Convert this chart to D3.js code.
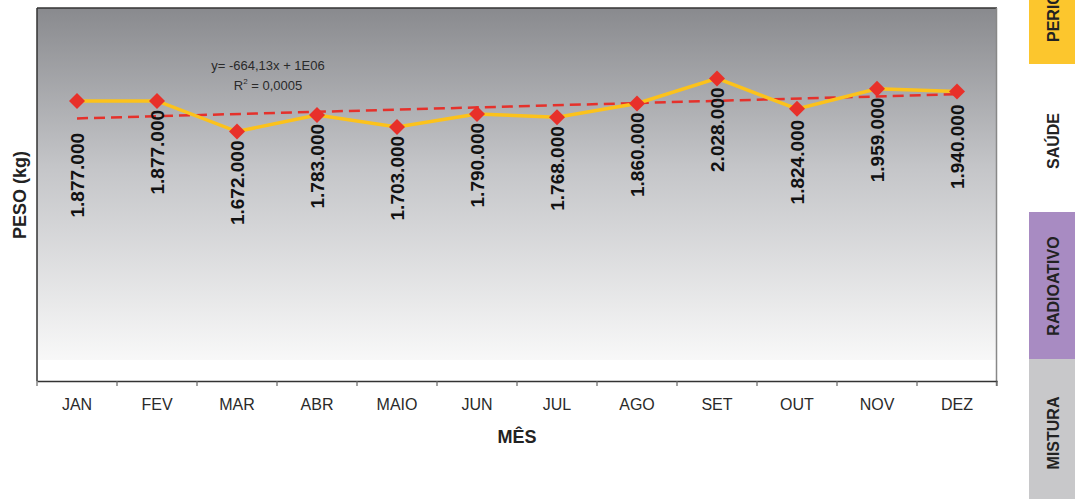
<!DOCTYPE html>
<html><head><meta charset="utf-8">
<script src="https://cdn.jsdelivr.net/npm/d3@7"></script>
<style>html,body{margin:0;padding:0;background:#fff;}svg{display:block;font-family:"Liberation Sans",Arial,sans-serif;}</style>
</head><body>
<svg id="c" width="1075" height="499"></svg>
<script>
const months = ["JAN","FEV","MAR","ABR","MAIO","JUN","JUL","AGO","SET","OUT","NOV","DEZ"];
const weights = [1877000,1877000,1672000,1783000,1703000,1790000,1768000,1860000,2028000,1824000,1959000,1940000];
const trendEnds = [1760000, 1922000];
const equationText = ["y= -664,13x + 1E06", "R", "2", " = 0,0005"];
const tabNames = ["PERIG", "SAÚDE", "RADIOATIVO", "MISTURA"];
const tabColors = ["#fcc62d", "#ffffff", "#a88bc2", "#c8c8ca"];

const svg = d3.select("#c");
const L = 37, R = 997, T = 8, B = 381;
const x = d3.scaleBand().domain(months).range([L, R]);
const y = d3.scaleLinear().domain([0, 2500000]).range([B, T]);
const cx = m => x(m) + x.bandwidth()/2;

// background gradient
const defs = svg.append("defs");
const g = defs.append("linearGradient").attr("id","bg").attr("x1",0).attr("y1",0).attr("x2",0).attr("y2",1);
g.append("stop").attr("offset","0%").attr("stop-color","#898a8e");
g.append("stop").attr("offset","45%").attr("stop-color","#c4c5c8");
g.append("stop").attr("offset","100%").attr("stop-color","#f8f8f8");
svg.append("rect").attr("x",L).attr("y",T).attr("width",R-L).attr("height",360-T).attr("fill","url(#bg)");

// frame
svg.append("line").attr("x1",L).attr("x2",R).attr("y1",T).attr("y2",T).attr("stroke","#333").attr("stroke-width",1.5);
svg.append("line").attr("x1",R-0.5).attr("x2",R-0.5).attr("y1",T).attr("y2",B+5).attr("stroke","#888").attr("stroke-width",1.5);
svg.append("line").attr("x1",L).attr("x2",L).attr("y1",T).attr("y2",B).attr("stroke","#333").attr("stroke-width",1.5);

// x axis
const xAxis = d3.axisBottom(x).tickSize(0).tickPadding(18);
const ax = svg.append("g").attr("transform",`translate(0,${B})`).call(xAxis);
ax.select(".domain").attr("stroke","#333").attr("stroke-width",1.5);
ax.selectAll("text").attr("font-size",16).attr("fill","#2a2a2a").attr("font-family","Liberation Sans, Arial, sans-serif");
const bounds = months.map(m => x(m)).concat([R]);
svg.append("g").selectAll("line").data(bounds).join("line")
  .attr("x1",d=>d).attr("x2",d=>d).attr("y1",B).attr("y2",B+5).attr("stroke","#666").attr("stroke-width",1.2);

// axis titles
svg.append("text").attr("x",517).attr("y",443).attr("text-anchor","middle")
  .attr("font-size",18).attr("font-weight","bold").attr("fill","#222").text("MÊS");
svg.append("text").attr("transform","translate(26,195) rotate(-90)").attr("text-anchor","middle")
  .attr("font-size",18).attr("font-weight","bold").attr("fill","#222").text("PESO (kg)");

// trend line
svg.append("line")
  .attr("x1",cx(months[0])).attr("x2",cx(months[months.length-1]))
  .attr("y1",y(trendEnds[0])).attr("y2",y(trendEnds[1]))
  .attr("stroke","#e5312b").attr("stroke-width",2.5).attr("stroke-dasharray","11,6");

// data line
const line = d3.line().x((d,i)=>cx(months[i])).y(d=>y(d));
svg.append("path").datum(weights).attr("d",line).attr("fill","none")
  .attr("stroke","#fcc21b").attr("stroke-width",3.5).attr("stroke-linejoin","miter");

// markers
svg.append("g").selectAll("path").data(weights).join("path")
  .attr("d","M0,-8L8,0L0,8L-8,0Z")
  .attr("transform",(d,i)=>`translate(${cx(months[i])},${y(d)})`)
  .attr("fill","#e8302a");

// labels
const fmt = v => d3.format(",")(v).replace(/,/g,".");
const labelNudge = [23,0,0,0,0,0,0,0,0,2,0,4];
svg.append("g").selectAll("text").data(weights).join("text")
  .attr("transform",(d,i)=>`translate(${cx(months[i])},${y(d)+9+labelNudge[i]}) rotate(-90)`)
  .attr("text-anchor","end").attr("dy","0.36em")
  .attr("font-size",19).attr("font-weight","bold").attr("fill","#111")
  .text(fmt);

// equation
svg.append("text").attr("x",268).attr("y",70).attr("text-anchor","middle").attr("font-size",13).attr("fill","#2a2a2a").text(equationText[0]);
const r2 = svg.append("text").attr("x",268).attr("y",90).attr("text-anchor","middle").attr("font-size",13).attr("fill","#2a2a2a");
r2.append("tspan").text(equationText[1]);
r2.append("tspan").attr("font-size",8).attr("dy",-6).text(equationText[2]);
r2.append("tspan").attr("dy",6).text(equationText[3]);

// right side tabs
const tabY = [[0,64],[64,212],[212,359],[359,499]];
const tabTextY = [42,141,286,433];
const tabAnchor = ["start","middle","middle","middle"];
const tg = svg.append("g");
tabNames.forEach((name,i)=>{
  tg.append("rect").attr("x",1029).attr("y",tabY[i][0]).attr("width",46)
    .attr("height",tabY[i][1]-tabY[i][0]).attr("fill",tabColors[i]);
  tg.append("text").attr("transform",`translate(1053,${tabTextY[i]}) rotate(-90)`).attr("text-anchor",tabAnchor[i])
    .attr("dy","0.35em").attr("font-size",16).attr("font-weight","bold").attr("fill","#222").text(name);
});
</script>
</body></html>
